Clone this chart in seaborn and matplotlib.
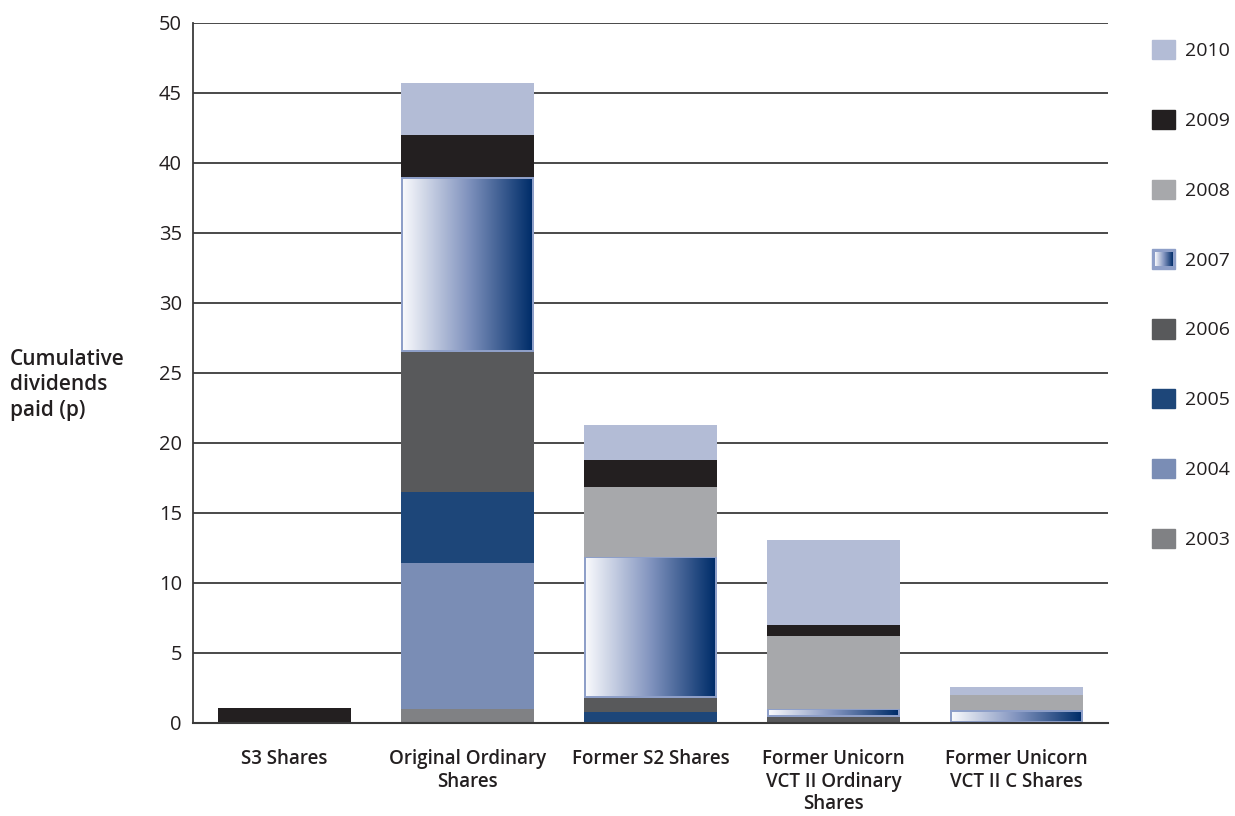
import numpy as np
import matplotlib
matplotlib.use("Agg")
import matplotlib.pyplot as plt
import seaborn as sns
from matplotlib.colors import LinearSegmentedColormap
from matplotlib.patches import Patch

categories = ["S3 Shares", "Original Ordinary\nShares", "Former S2 Shares",
              "Former Unicorn\nVCT II Ordinary\nShares", "Former Unicorn\nVCT II C Shares"]
years = ["2003", "2004", "2005", "2006", "2007", "2008", "2009", "2010"]
d2003 = [0.0, 1.0, 0.0, 0.0, 0.0]
d2004 = [0.0, 10.4, 0.0, 0.0, 0.0]
d2005 = [0.0, 5.1, 0.75, 0.0, 0.0]
d2006 = [0.0, 10.0, 1.0, 0.4, 0.0]
d2007 = [0.0, 12.5, 10.1, 0.6, 0.9]
d2008 = [0.0, 0.0, 5.0, 5.2, 1.1]
d2009 = [1.1, 3.0, 1.95, 0.8, 0.0]
d2010 = [0.0, 3.7, 2.5, 6.1, 0.55]
series = [d2003, d2004, d2005, d2006, d2007, d2008, d2009, d2010]

colors = {"2003": "#808184", "2004": "#7a8db5", "2005": "#1d4679", "2006": "#58595b",
          "2007": "#8e9fc8", "2008": "#a7a8ab", "2009": "#231f20", "2010": "#b3bcd6"}
grad_cmap = LinearSegmentedColormap.from_list("g", ["#f8f9fc", "#8294bf", "#002d69"])
text_color = "#231f20"

sns.set_theme(style="white")
plt.rcParams["font.family"] = ["Open Sans", "DejaVu Sans"]
plt.rcParams["text.color"] = text_color
plt.rcParams["axes.labelcolor"] = text_color
plt.rcParams["xtick.color"] = text_color
plt.rcParams["ytick.color"] = text_color

fig = plt.figure(figsize=(12.35, 8.16), dpi=100)
ax = fig.add_axes([0.1563, 0.1140, 0.741, 0.858])

grad = np.linspace(0, 1, 256).reshape(1, -1)
bottom = np.zeros(len(categories))
for year, vals in zip(years, series):
    n0 = len(ax.patches)
    sns.barplot(x=categories, y=vals, bottom=bottom.copy(), color=colors[year],
                width=0.727, saturation=1, linewidth=0, errorbar=None, ax=ax, zorder=3)
    new = ax.patches[n0:]
    if year == "2007":
        for p in new:
            h = p.get_height()
            if h <= 0:
                continue
            x0, y0, w = p.get_x(), p.get_y(), p.get_width()
            bx, by = 0.012, 0.15
            ax.imshow(grad, extent=[x0 + bx, x0 + w - bx, y0 + by, y0 + h - by],
                      aspect="auto", cmap=grad_cmap, interpolation="bicubic", zorder=3.5)
    bottom += np.array(vals)

ax.set_xlim(-0.5, 4.5)
ax.set_ylim(0, 50)
ax.set_yticks(np.arange(0, 51, 5))
ax.yaxis.grid(True, color="#3a3a3a", linewidth=1.3, zorder=0)
ax.xaxis.grid(False)
ax.set_axisbelow(True)
for s in ["top", "right"]:
    ax.spines[s].set_visible(False)
ax.spines["left"].set_color("#3a3a3a")
ax.spines["left"].set_linewidth(1.3)
ax.spines["bottom"].set_color("#3a3a3a")
ax.spines["bottom"].set_linewidth(1.5)
ax.spines["bottom"].set_zorder(5)
ax.tick_params(axis="y", length=0, pad=8, labelsize=14.5)
ax.tick_params(axis="x", length=0, pad=19, labelsize=13.5)
for lab in ax.get_xticklabels():
    lab.set_fontweight("semibold")
    lab.set_linespacing(1.15)
    lab.set_va("top")
ax.set_xlabel("")
ax.set_ylabel("Cumulative\ndividends\npaid (p)", rotation=0, ha="left", va="center",
              fontweight="semibold", fontsize=15, linespacing=1.3)
ax.yaxis.set_label_coords(-0.2, 0.483)

handles = [Patch(facecolor=colors[y], edgecolor=colors[y], label=y) for y in reversed(years)]
leg = fig.legend(handles=handles, loc="upper left", bbox_to_anchor=(0.933, 0.951),
                 frameon=False, handlelength=1.15, handleheight=1.15, handletextpad=0.55,
                 labelspacing=2.55, fontsize=14, borderaxespad=0, borderpad=0)

fig.canvas.draw()
renderer = fig.canvas.get_renderer()
p7 = leg.get_patches()[list(reversed(years)).index("2007")]
bb = p7.get_window_extent(renderer).transformed(fig.transFigure.inverted())
dx, dy = 2.5 / 1235, 2.5 / 816
iax = fig.add_axes([bb.x0 + dx, bb.y0 + dy, bb.width - 2 * dx, bb.height - 2 * dy])
iax.imshow(grad, aspect="auto", cmap=grad_cmap, interpolation="bicubic")
iax.axis("off")
iax.set_zorder(10)

fig.savefig("out.png", dpi=100)
